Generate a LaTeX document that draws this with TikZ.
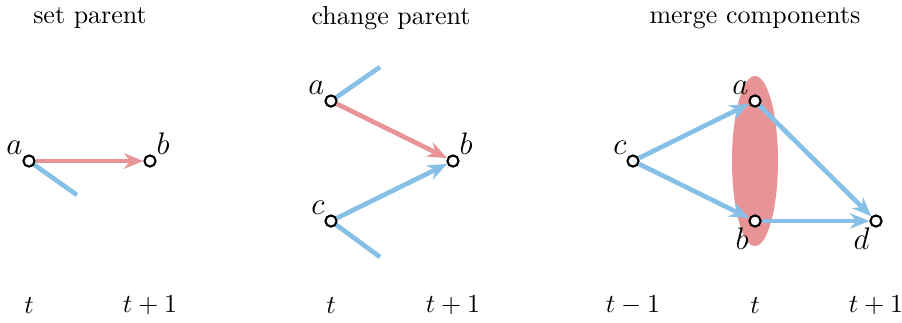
\documentclass[tikz,border=0pt]{standalone}
\usetikzlibrary{arrows.meta}

\definecolor{edgeblue}{RGB}{135,192,230}
\definecolor{edgered}{RGB}{232,148,150}

\begin{document}
\begin{tikzpicture}[x=0.385pt,y=-0.385pt,>={Stealth[length=7.5pt,width=6pt]},
    vert/.style={circle,draw,line width=0.8pt,fill=white,inner sep=0pt,minimum size=4.3pt},
    lab/.style={font=\large,inner sep=0.5pt},
    blueedge/.style={line width=1.8pt,edgeblue},
    rededge/.style={line width=1.8pt,edgered}]
  \useasboundingbox (0,0) rectangle (902,322);

  % titles
  \node (t1) at (90,18) {set parent};
  \node (t2) at (391,18) {change parent};
  \node (t3) at (755,18) {merge components};

  % time steps
  \foreach \x/\s/\n in {29/t/a,150/t+1/b,331/t/c,453/t+1/d,633/t-1/e,755/t/f,876/t+1/g}{
    \node (time\n) at (\x,305) {$\s$};
  }

  % set parent
  \coordinate (sx) at (77,195);
  \draw[blueedge] (29,161) -- (sx);
  \node[vert,label={[lab]above left:$a$}] (sa) at (29,161) {};
  \node[vert,label={[lab]above right:$b$}] (sb) at (150,161) {};
  \draw[rededge,->] (sa) -- (sb);

  % change parent
  \coordinate (cx) at (380,67);
  \coordinate (cy) at (380,257);
  \draw[blueedge] (331,101) -- (cx);
  \draw[blueedge] (331,221) -- (cy);
  \node[vert,label={[lab]above left:$a$}] (ca) at (331,101) {};
  \node[vert,label={[lab]above left:$c$}] (cc) at (331,221) {};
  \node[vert,label={[lab]above right:$b$}] (cb) at (453,161) {};
  \draw[rededge,->] (ca) -- (cb);
  \draw[blueedge,->] (cc) -- (cb);

  % merge components
  \fill[edgered] (755,161) ellipse [x radius=23,y radius=85];
  \node[vert,label={[lab]above left:$c$}] (mc) at (633,161) {};
  \node[vert,label={[lab]above left:$a$}] (ma) at (755,101) {};
  \node[vert,label={[lab]below left:$b$}] (mb) at (755,221) {};
  \node[vert,label={[lab]below left:$d$}] (md) at (876,221) {};
  \draw[blueedge,->] (mc) -- (ma);
  \draw[blueedge,->] (mc) -- (mb);
  \draw[blueedge,->] (ma) -- (md);
  \draw[blueedge,->] (mb) -- (md);
\end{tikzpicture}
\end{document}
